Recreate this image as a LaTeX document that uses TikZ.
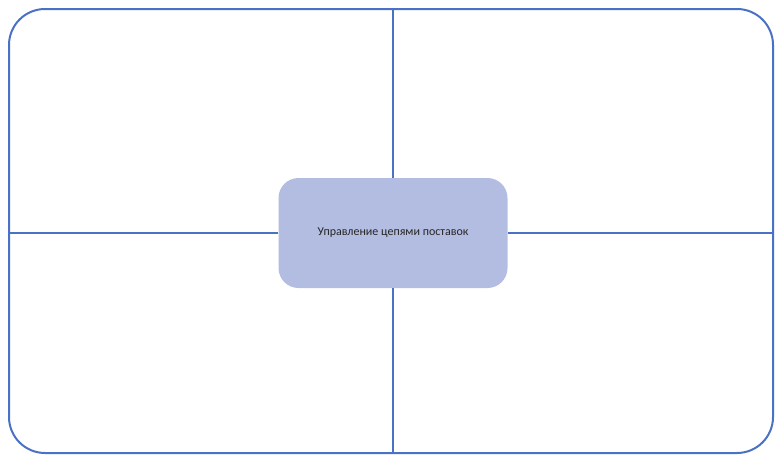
\documentclass[tikz,border=0pt]{standalone}
\usepackage{fontspec}
\setmainfont{Carlito}
\definecolor{frameBlue}{HTML}{4A72C4}
\definecolor{hubFill}{HTML}{B3BDE1}
\begin{document}
\begin{tikzpicture}[x=1pt,y=-1pt,font=\fontsize{12}{14}\selectfont,
frame/.style={draw=frameBlue,line width=2pt,rounded corners=36pt,inner sep=0pt},
hub/.style={fill=hubFill,draw=none,rounded corners=20pt,text=black!85},
spoke/.style={draw=frameBlue,line width=2pt}]
\path[use as bounding box] (0,0) rectangle (775,455);
\node[frame,minimum width=764pt,minimum height=444pt] (frame) at (391,231) {};
\node[hub,minimum width=229pt,minimum height=110pt] (hub) at (393,233) {Управление цепями поставок};
\draw[spoke] (hub.north) -- (hub.north |- frame.north);
\draw[spoke] (hub.south) -- (hub.south |- frame.south);
\draw[spoke] (hub.west) -- (hub.west -| frame.west);
\draw[spoke] (hub.east) -- (hub.east -| frame.east);
\end{tikzpicture}
\end{document}
